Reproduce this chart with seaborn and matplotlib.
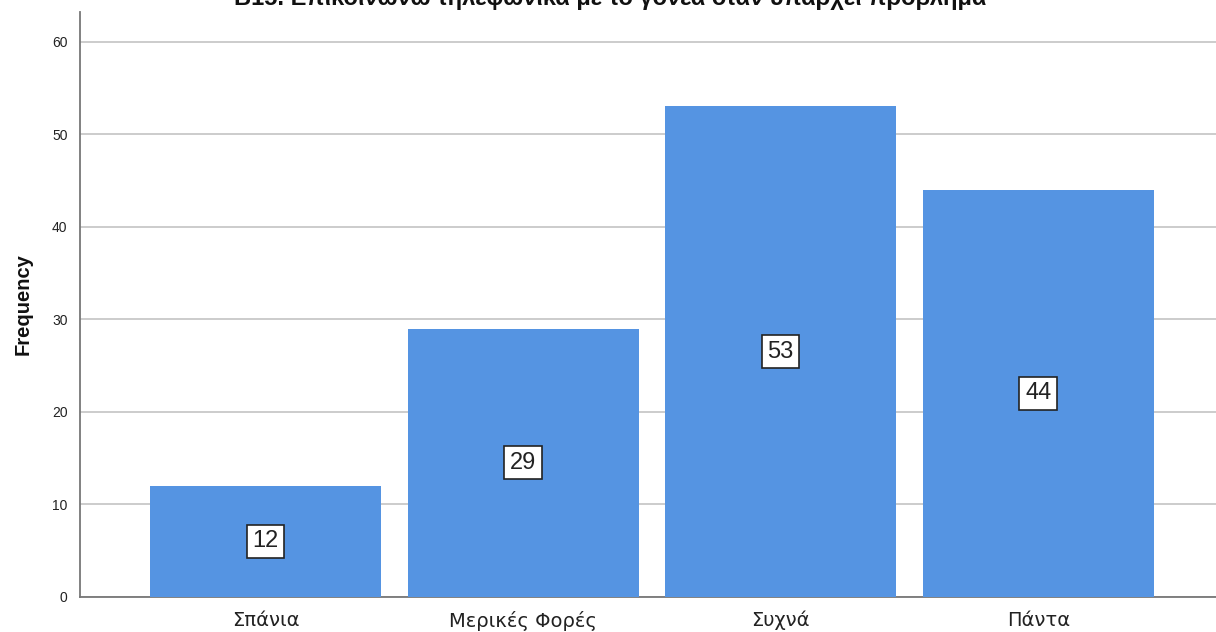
import matplotlib
matplotlib.use("Agg")
import matplotlib.pyplot as plt
import seaborn as sns
import pandas as pd

categories = ["Σπάνια", "Μερικές Φορές", "Συχνά", "Πάντα"]
frequencies = [12, 29, 53, 44]
title_text = "Β15. Επικοινωνώ τηλεφωνικά με το γονέα όταν υπάρχει πρόβλημα"
y_ticks = [0, 10, 20, 30, 40, 50, 60]

sns.set_theme(style="white")
plt.rcParams['font.family'] = ['Liberation Sans', 'DejaVu Sans']

df = pd.DataFrame({"cat": categories, "freq": frequencies})

fig = plt.figure(figsize=(12.16, 6.32), dpi=100)
ax = fig.add_axes([80/1216, 35/632, 1 - 80/1216, (597-12)/632])

sns.barplot(data=df, x="cat", y="freq", color="#5594E2", saturation=1,
            width=0.897, ax=ax, zorder=3)
for p in ax.patches:
    p.set_edgecolor("none")

ax.set_xlim(-0.72, 3.69)
ax.set_ylim(0, 63.2)
ax.set_yticks(y_ticks)
ax.set_yticklabels([str(v) for v in y_ticks], fontsize=10, color="#222222")
ax.tick_params(axis='x', length=0, pad=10)
for lbl in ax.get_xticklabels():
    lbl.set_fontfamily(['DejaVu Sans'])
    lbl.set_fontsize(14)
    lbl.set_color("#222222")
ax.tick_params(axis='y', length=0, pad=9)
ax.grid(axis='y', color="#c8c8c8", linewidth=1.3, zorder=0)
ax.set_axisbelow(True)
ax.set_xlabel("")
ax.set_ylabel("Frequency", fontsize=14.5, fontweight='bold', labelpad=14, color="#111111")

for s in ["top", "right"]:
    ax.spines[s].set_visible(False)
for s in ["left", "bottom"]:
    ax.spines[s].set_color("#777777")
    ax.spines[s].set_linewidth(1.3)

for i, v in enumerate(frequencies):
    ax.text(i, v / 2, str(v), ha='center', va='center', fontsize=17, color="#222222",
            zorder=5,
            bbox=dict(boxstyle='square,pad=0.24', facecolor='white', edgecolor='#222222', linewidth=1.2))

fig.text(610/1216, 1 - 4.7/632, title_text, ha='center', va='baseline',
         fontsize=17, fontweight='bold', color="#111111")

fig.savefig("out.png", dpi=100, facecolor="white")
